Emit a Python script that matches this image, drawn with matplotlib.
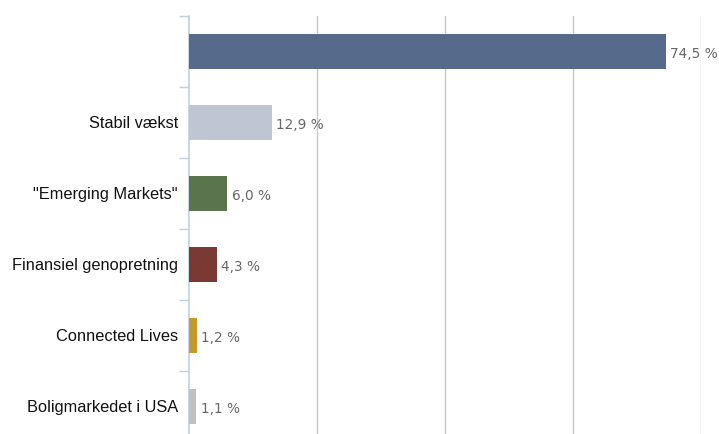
import numpy as np
import matplotlib.pyplot as plt

categories = ["", "Stabil vækst", "\"Emerging Markets\"", "Finansiel genopretning",
              "Connected Lives", "Boligmarkedet i USA"]
values = [74.5, 12.9, 6.0, 4.3, 1.2, 1.1]
colors = ["#566a8b", "#bfc5d2", "#5a744e", "#7a3a33", "#c49a2e", "#c0c0c0"]

fig = plt.figure(figsize=(7.19, 4.34), dpi=100)
ax = fig.add_axes([189 / 719, 1 - 442 / 434, 512 / 719, 426 / 434])

y = np.arange(len(categories))
ax.barh(y, values, height=0.48, color=colors, zorder=3)
ax.set_ylim(len(categories) - 0.5, -0.5)
ax.set_xlim(0, 80)

for yi, v in zip(y, values):
    ax.text(v + 0.7, yi + 0.03, f"{v:.1f} %".replace(".", ","), va="center", ha="left",
            fontsize=9.8, color="#666666", family="DejaVu Sans", zorder=4)

ax.set_xticks([20, 40, 60, 80])
ax.xaxis.grid(True, color="#c8c8c8", linewidth=1)
ax.tick_params(axis="x", length=0, labelbottom=False)

ax.set_yticks(y)
ax.set_yticklabels(categories, fontsize=11.8, color="#111111", family="Liberation Sans")
ax.set_yticks(np.arange(len(categories) + 1) - 0.5, minor=True)
ax.tick_params(axis="y", which="major", length=0, pad=8)
ax.tick_params(axis="y", which="minor", length=7, color="#c0d0e0", width=1)

for side in ["top", "right", "bottom"]:
    ax.spines[side].set_visible(False)
ax.spines["left"].set_color("#c0d0e0")
ax.spines["left"].set_linewidth(1.2)

fig.savefig("out.png", dpi=100)
